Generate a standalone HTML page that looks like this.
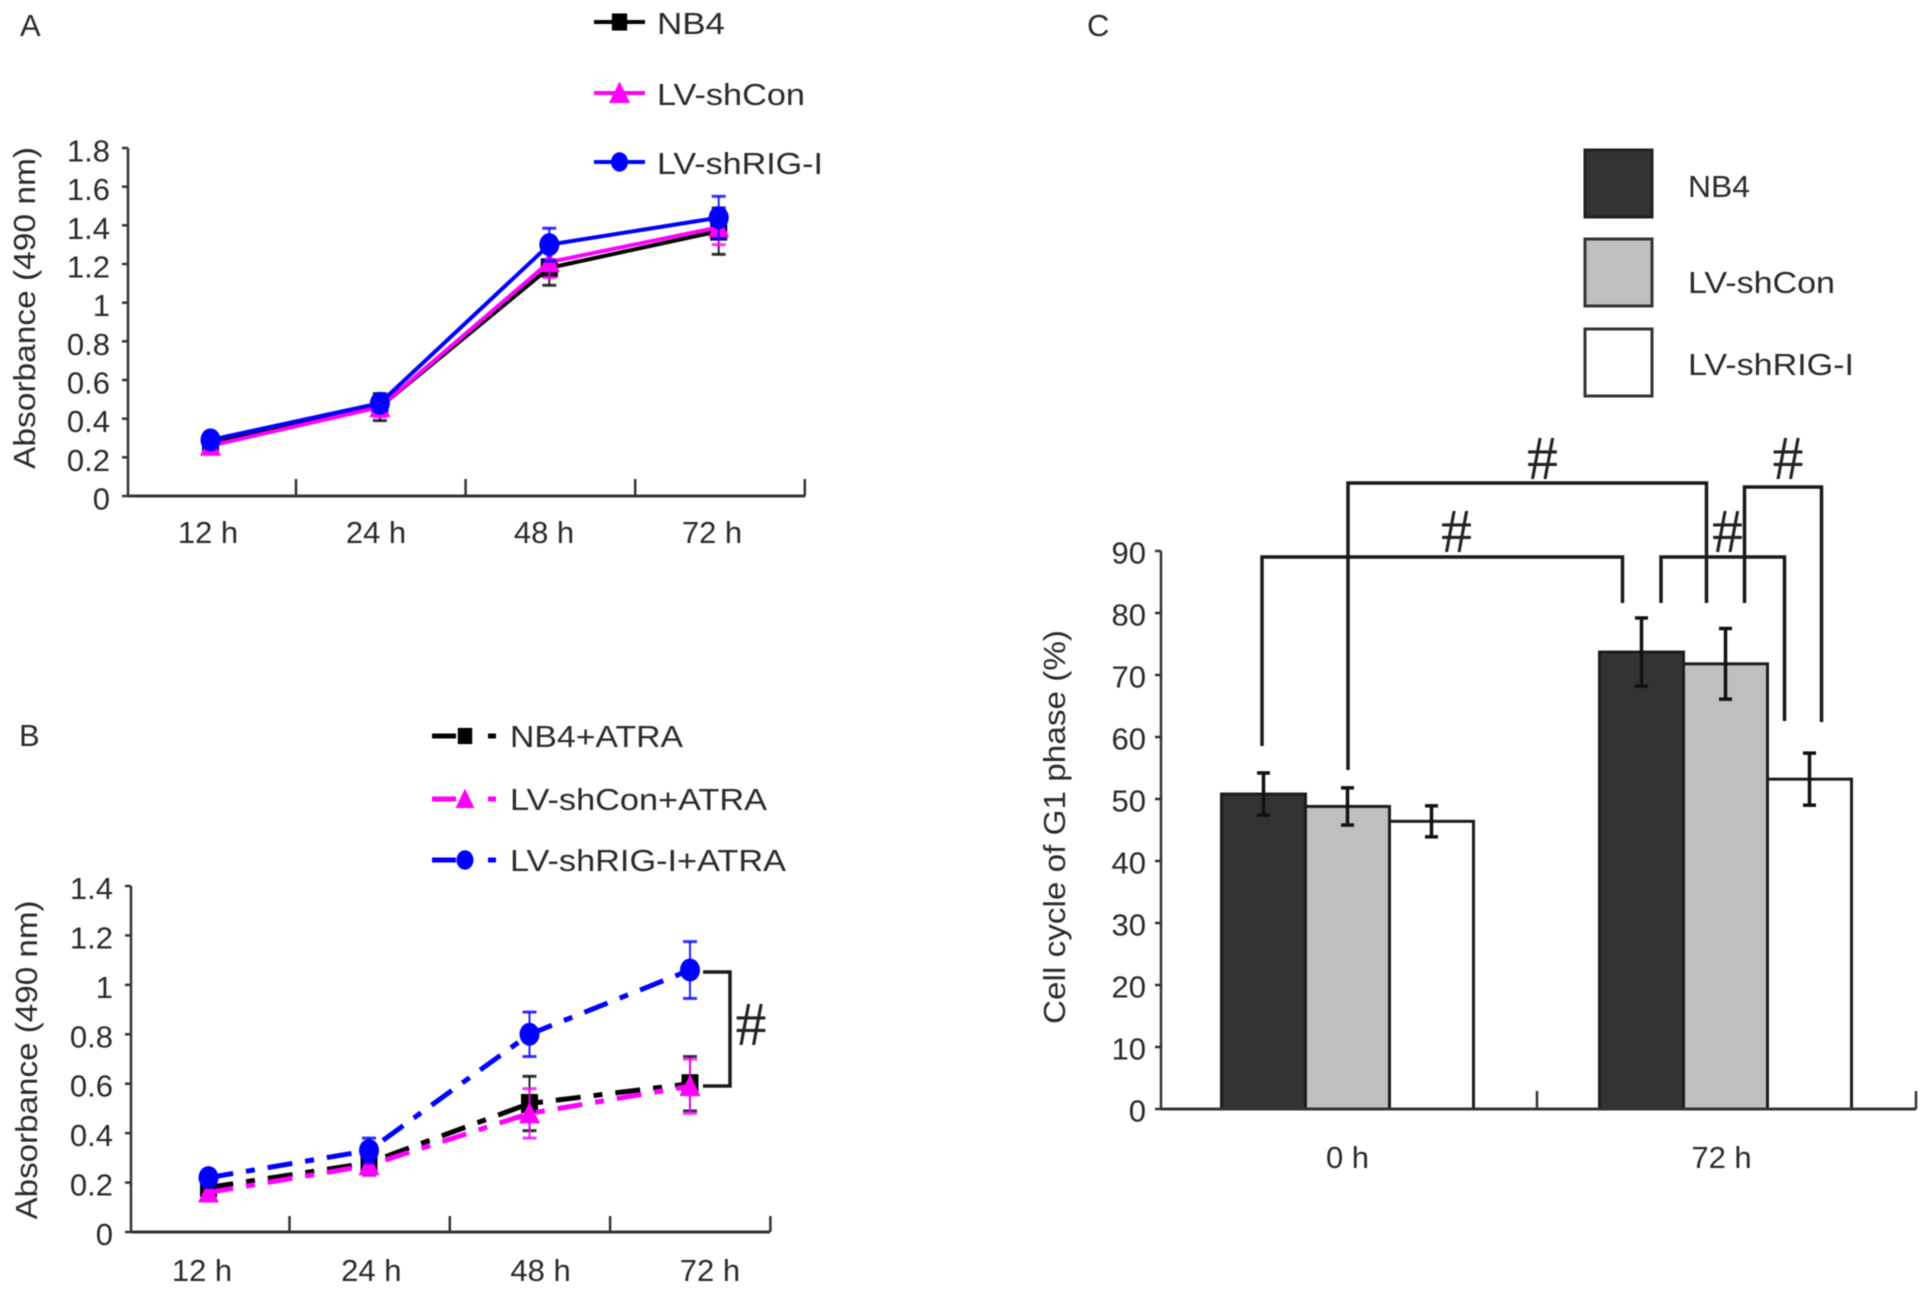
<!DOCTYPE html>
<html lang="en">
<head>
<meta charset="utf-8">
<title>Cell absorbance and G1 phase charts</title>
<style>
html,body{margin:0;padding:0;background:#fff;}
#figure{display:block;width:1930px;height:1296px;filter:blur(0.55px);}
text{font-family:"Liberation Sans",sans-serif;fill:#2a2a2a;font-size:31px;}
.hash{font-family:"Liberation Serif",serif;font-size:62px;fill:#222;text-anchor:middle;}
</style>
</head>
<body>
<svg id="figure" xmlns="http://www.w3.org/2000/svg" width="1930" height="1296" viewBox="0 0 1930 1296">
  <rect x="0" y="0" width="1930" height="1296" fill="#fff"/>

  <text x="20" y="36">A</text>
  <text x="19" y="746">B</text>
  <text x="1087" y="36">C</text>

  <text transform="translate(35,308) rotate(-90)" text-anchor="middle" textLength="322" lengthAdjust="spacingAndGlyphs">Absorbance (490 nm)</text>
  <text transform="translate(37,1060) rotate(-90)" text-anchor="middle" textLength="319" lengthAdjust="spacingAndGlyphs">Absorbance (490 nm)</text>
  <text transform="translate(1065,827) rotate(-90)" text-anchor="middle" textLength="394" lengthAdjust="spacingAndGlyphs">Cell cycle of G1 phase (%)</text>

  <g id="panel-a"></g>
  <g id="panel-b"></g>
  <g id="panel-c"></g>

  <g>
    <text x="657" y="34" textLength="68" lengthAdjust="spacingAndGlyphs">NB4</text>
    <text x="657" y="105" textLength="148" lengthAdjust="spacingAndGlyphs">LV-shCon</text>
    <text x="657" y="174" textLength="166" lengthAdjust="spacingAndGlyphs">LV-shRIG-I</text>
  </g>
  <g>
    <text x="510" y="747" textLength="173" lengthAdjust="spacingAndGlyphs">NB4+ATRA</text>
    <text x="510" y="810" textLength="257" lengthAdjust="spacingAndGlyphs">LV-shCon+ATRA</text>
    <text x="510" y="871" textLength="276" lengthAdjust="spacingAndGlyphs">LV-shRIG-I+ATRA</text>
  </g>
  <g>
    <rect x="1585" y="150" width="67" height="67" fill="#333" stroke="#222" stroke-width="3"/>
    <rect x="1585" y="239" width="67" height="67" fill="#bfbfbf" stroke="#333" stroke-width="3"/>
    <rect x="1585" y="329" width="67" height="67" fill="#fff" stroke="#333" stroke-width="3"/>
    <text x="1688" y="197" textLength="62" lengthAdjust="spacingAndGlyphs">NB4</text>
    <text x="1688" y="293" textLength="147" lengthAdjust="spacingAndGlyphs">LV-shCon</text>
    <text x="1688" y="375" textLength="166" lengthAdjust="spacingAndGlyphs">LV-shRIG-I</text>
  </g>

  <g fill="none" stroke="#1a1a1a" stroke-width="3.5">
    <polyline points="703,972 730,972 730,1086 703,1086"/>
  </g>
  <text class="hash" x="751" y="1045">#</text>

  <g fill="none" stroke="#1a1a1a" stroke-width="3.5">
    <polyline points="1262,746 1262,557 1622.5,557 1622.5,603"/>
    <polyline points="1348,770 1348,483 1706.5,483 1706.5,603"/>
    <polyline points="1661,603 1661,557 1784.5,557 1784.5,721"/>
    <polyline points="1744.5,603 1744.5,487 1821.5,487 1821.5,722"/>
  </g>
  <text class="hash" x="1456.5" y="552">#</text>
  <text class="hash" x="1542.5" y="479">#</text>
  <text class="hash" x="1727.5" y="552">#</text>
  <text class="hash" x="1788" y="479">#</text>
</svg>

<script>
// Panel A data
const categoriesA = ['12 h', '24 h', '48 h', '72 h'];
const ticksA = ['0', '0.2', '0.4', '0.6', '0.8', '1', '1.2', '1.4', '1.6', '1.8'];
const tickValuesA = [0, 0.2, 0.4, 0.6, 0.8, 1, 1.2, 1.4, 1.6, 1.8];
const nb4A = [0.27, 0.46, 1.18, 1.37];
const nb4ErrA = [0.03, 0.07, 0.09, 0.12];
const shConA = [0.26, 0.46, 1.21, 1.39];
const shConErrA = [0.03, 0.05, 0.08, 0.09];
const shRigA = [0.29, 0.48, 1.30, 1.44];
const shRigErrA = [0.03, 0.04, 0.085, 0.11];

// Panel B data
const categoriesB = ['12 h', '24 h', '48 h', '72 h'];
const ticksB = ['0', '0.2', '0.4', '0.6', '0.8', '1', '1.2', '1.4'];
const tickValuesB = [0, 0.2, 0.4, 0.6, 0.8, 1, 1.2, 1.4];
const nb4B = [0.18, 0.28, 0.52, 0.60];
const nb4ErrB = [0.03, 0.05, 0.11, 0.11];
const shConB = [0.16, 0.27, 0.48, 0.59];
const shConErrB = [0.03, 0.04, 0.10, 0.11];
const shRigB = [0.22, 0.33, 0.80, 1.06];
const shRigErrB = [0.03, 0.05, 0.09, 0.115];

// Panel C data
const categoriesC = ['0 h', '72 h'];
const ticksC = ['0', '10', '20', '30', '40', '50', '60', '70', '80', '90'];
const tickValuesC = [0, 10, 20, 30, 40, 50, 60, 70, 80, 90];
const nb4C = [50.8, 73.7];
const nb4ErrC = [3.4, 5.5];
const shConC = [48.8, 71.8];
const shConErrC = [3.0, 5.7];
const shRigC = [46.4, 53.2];
const shRigErrC = [2.5, 4.2];

const NS = 'http://www.w3.org/2000/svg';
function mk(parent, tag, attrs, content) {
  const el = document.createElementNS(NS, tag);
  for (const key in attrs) el.setAttribute(key, attrs[key]);
  if (content !== undefined) el.textContent = content;
  parent.appendChild(el);
  return el;
}

// Scales
const yA = v => 496 - v * (348 / 1.8);
const xA = i => 210.5 + i * 169.4;
const yB = v => 1232 - v * (346 / 1.4);
const xB = i => 208.5 + i * 160.5;
const yC = v => 1109 - v * 6.2;

function drawMarker(g, shape, cx, cy, s, color) {
  let m;
  if (shape === 'square') {
    m = mk(g, 'rect', {x: cx - s * 0.85, y: cy - s * 0.95, width: s * 1.7, height: s * 1.9, fill: color});
  } else if (shape === 'triangle') {
    m = mk(g, 'polygon', {points: (cx) + ',' + (cy - s * 1.15) + ' ' + (cx + s * 1.05) + ',' + (cy + s) + ' ' + (cx - s * 1.05) + ',' + (cy + s), fill: color});
  } else {
    m = mk(g, 'ellipse', {cx: cx, cy: cy, rx: s, ry: s * 1.15, fill: color});
  }
  
  
}

function drawSeries(panel, xs, ys, values, errs, color, shape, dash) {
  const g = mk(panel, 'g', {});
  
  
  values.forEach((v, i) => {
    const e = errs[i];
    const stem = mk(g, 'line', {x1: xs(i), x2: xs(i), y1: ys(v - e), y2: ys(v + e), stroke: color, 'stroke-width': 2, 'stroke-opacity': 0.85});
    
    
    [v - e, v + e].forEach(w => {
      const cap = mk(g, 'line', {x1: xs(i) - 7, x2: xs(i) + 7, y1: ys(w), y2: ys(w), stroke: color, 'stroke-width': 3, 'stroke-opacity': 0.8});
      
      
    });
  });
  const pts = values.map((v, i) => xs(i) + ',' + ys(v)).join(' ');
  const attrs = {points: pts, fill: 'none', stroke: color, 'stroke-width': dash ? 5 : 4};
  if (dash) attrs['stroke-dasharray'] = dash;
  const line = mk(g, 'polyline', attrs);
  
  
  values.forEach((v, i) => drawMarker(g, shape, xs(i), ys(v), 10, color));
}

function drawYAxis(panel, x, ys, tickValues, tickLabels, labelRight, offset) {
  const top = ys(tickValues[tickValues.length - 1]);
  const bottom = ys(tickValues[0]);
  const axis = mk(panel, 'line', {x1: x, x2: x, y1: top, y2: bottom, stroke: '#333', 'stroke-width': 2.5});
  
  
  tickValues.forEach((v, i) => {
    const t = mk(panel, 'line', {x1: x - 6, x2: x, y1: ys(v), y2: ys(v), stroke: '#333', 'stroke-width': 2.5});
    
    
    const lab = mk(panel, 'text', {x: labelRight, y: ys(v) + offset, 'text-anchor': 'end'}, tickLabels[i]);
    
    
  });
}

function drawXAxis(panel, x0, x1, y, tickXs, h) {
  const axis = mk(panel, 'line', {x1: x0, x2: x1, y1: y, y2: y, stroke: '#333', 'stroke-width': 3});
  
  
  tickXs.forEach(tx => {
    const t = mk(panel, 'line', {x1: tx, x2: tx, y1: y - h, y2: y, stroke: '#333', 'stroke-width': 2.5});
    
    
  });
}

function drawXLabels(panel, labels, xs, y) {
  labels.forEach((c, i) => {
    const lab = mk(panel, 'text', {x: xs(i), y: y, 'text-anchor': 'middle'}, c);
    
    
  });
}

function legendLine(panel, x0, x1, y, color, shape, s, dashed) {
  const g = mk(panel, 'g', {});
  
  
  const mid = dashed ? x0 + 33 : (x0 + x1) / 2;
  if (dashed) {
    mk(g, 'line', {x1: x0, x2: x0 + 24, y1: y, y2: y, stroke: color, 'stroke-width': 5});
    mk(g, 'line', {x1: x1 - 8, x2: x1, y1: y, y2: y, stroke: color, 'stroke-width': 5});
  } else {
    mk(g, 'line', {x1: x0, x2: x1, y1: y, y2: y, stroke: color, 'stroke-width': 4});
  }
  drawMarker(g, shape, mid, y, s, color);
}

// Panel A
const panelA = document.getElementById('panel-a');
drawYAxis(panelA, 128, yA, tickValuesA, ticksA, 110, 13.5);
drawXAxis(panelA, 128, 805, 496, categoriesA.map((c, i) => 296 + i * 169.6), 17);
drawXLabels(panelA, categoriesA, i => 208 + i * 168, 543);
drawSeries(panelA, xA, yA, nb4A, nb4ErrA, '#000', 'square');
drawSeries(panelA, xA, yA, shConA, shConErrA, '#ff00ff', 'triangle');
drawSeries(panelA, xA, yA, shRigA, shRigErrA, '#0000ff', 'circle');
legendLine(panelA, 594, 645, 22, '#000', 'square', 9);
legendLine(panelA, 594, 645, 93, '#ff00ff', 'triangle', 10);
legendLine(panelA, 594, 645, 162, '#0000ff', 'circle', 8.5);

// Panel B
const panelB = document.getElementById('panel-b');
const dashPattern = '25 13 9 13';
drawYAxis(panelB, 131, yB, tickValuesB, ticksB, 113, 13);
drawXAxis(panelB, 131, 770, 1232, categoriesB.map((c, i) => 289.5 + i * 160.3), 16);
drawXLabels(panelB, categoriesB, i => 202 + i * 169.3, 1281);
drawSeries(panelB, xB, yB, nb4B, nb4ErrB, '#000', 'square', dashPattern);
drawSeries(panelB, xB, yB, shConB, shConErrB, '#ff00ff', 'triangle', dashPattern);
drawSeries(panelB, xB, yB, shRigB, shRigErrB, '#0000ff', 'circle', dashPattern);
legendLine(panelB, 432, 496, 736, '#000', 'square', 8.5, true);
legendLine(panelB, 432, 496, 799, '#ff00ff', 'triangle', 9, true);
legendLine(panelB, 432, 496, 860, '#0000ff', 'circle', 8.5, true);

// Panel C
const panelC = document.getElementById('panel-c');
const groupStart = i => 1221.5 + i * 378;
const barWidth = 84;
function drawBars(values, errs, slot, fill, name) {
  values.forEach((v, i) => {
    const x = groupStart(i) + slot * barWidth;
    const bar = mk(panelC, 'rect', {x: x, y: yC(v), width: barWidth, height: yC(0) - yC(v), fill: fill, stroke: '#1c1c1c', 'stroke-width': 3});
    
    
    const cx = x + barWidth / 2;
    const stem = mk(panelC, 'line', {x1: cx, x2: cx, y1: yC(v - errs[i]), y2: yC(v + errs[i]), stroke: '#111', 'stroke-width': 3.5});
    
    
    [v - errs[i], v + errs[i]].forEach(w => {
      const cap = mk(panelC, 'line', {x1: cx - 6.5, x2: cx + 6.5, y1: yC(w), y2: yC(w), stroke: '#111', 'stroke-width': 3.5});
      
      
    });
  });
}
drawBars(nb4C, nb4ErrC, 0, '#333', 'bar-nb4');
drawBars(shConC, shConErrC, 1, '#bfbfbf', 'bar-lv-shcon');
drawBars(shRigC, shRigErrC, 2, '#fff', 'bar-lv-shrig-i');
drawYAxis(panelC, 1161, yC, tickValuesC, ticksC, 1146, 12.5);
drawXAxis(panelC, 1161, 1916, 1109, [1537, 1916], 18);
drawXLabels(panelC, categoriesC, i => 1347.5 + i * 374, 1168);
</script>
</body>
</html>
